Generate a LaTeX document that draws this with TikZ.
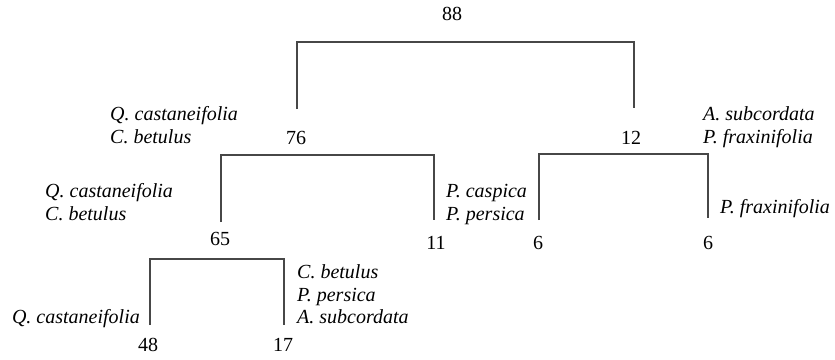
\documentclass[tikz,border=0pt]{standalone}
\usepackage{fontspec}
\setmainfont{Liberation Serif}
\begin{document}
\begin{tikzpicture}[x=1pt,y=-1pt,
  br/.style={draw=black!72,line width=1.7pt,line join=miter},
  num/.style={anchor=base,inner sep=0pt,font=\fontsize{20}{23}\selectfont},
  spw/.style={anchor=base west,inner sep=0pt,font=\fontsize{20}{23}\selectfont\itshape},
  spe/.style={anchor=base east,inner sep=0pt,font=\fontsize{20}{23}\selectfont\itshape}]
\useasboundingbox (0,0) rectangle (835,359);
% bracket corners
\coordinate (a1) at (297,109); \coordinate (a2) at (297,42);
\coordinate (a3) at (634,42);  \coordinate (a4) at (634,108);
\coordinate (b1) at (221,222); \coordinate (b2) at (221,155);
\coordinate (b3) at (434,155); \coordinate (b4) at (434,220);
\coordinate (c1) at (539,220); \coordinate (c2) at (539,154);
\coordinate (c3) at (708,154); \coordinate (c4) at (708,218);
\coordinate (d1) at (150,325); \coordinate (d2) at (150,259);
\coordinate (d3) at (284,259); \coordinate (d4) at (284,325);
\draw[br] (a1) -- (a2) -- (a3) -- (a4);
\draw[br] (b1) -- (b2) -- (b3) -- (b4);
\draw[br] (c1) -- (c2) -- (c3) -- (c4);
\draw[br] (d1) -- (d2) -- (d3) -- (d4);
% numbers
\node[num] (n88) at (452,20) {88};
\node[num] (n76) at (296,144) {76};
\node[num] (n12) at (631,144) {12};
\node[num] (n65) at (220,245) {65};
\node[num] (n11) at (436,249) {11};
\node[num] (n6a) at (538,249) {6};
\node[num] (n6b) at (708,249) {6};
\node[num] (n48) at (148,351) {48};
\node[num] (n17) at (283,351) {17};
% species labels
\node[spw] (t1) at (110,120) {Q. castaneifolia};
\node[spw] (t2) at (110,143) {C. betulus};
\node[spw] (t3) at (703,120) {A. subcordata};
\node[spw] (t4) at (703,143) {P. fraxinifolia};
\node[spw] (t5) at (45,197) {Q. castaneifolia};
\node[spw] (t6) at (45,220) {C. betulus};
\node[spw] (t7) at (446,197) {P. caspica};
\node[spw] (t8) at (446,220) {P. persica};
\node[spw] (t9) at (720,213) {P. fraxinifolia};
\node[spe] (t10) at (140,323) {Q. castaneifolia};
\node[spw] (t11) at (297,278) {C. betulus};
\node[spw] (t12) at (297,301) {P. persica};
\node[spw] (t13) at (297,323) {A. subcordata};
\end{tikzpicture}
\end{document}
